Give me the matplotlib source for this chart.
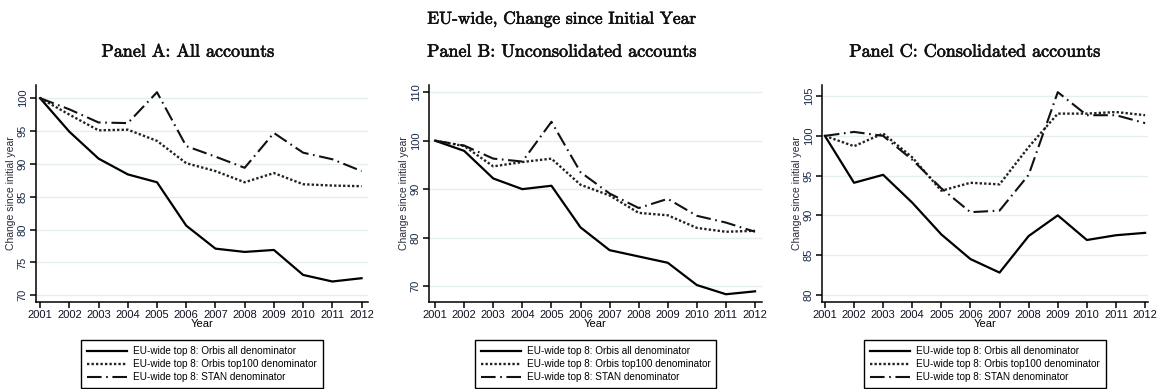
import matplotlib
matplotlib.use("Agg")
import matplotlib.pyplot as plt
import matplotlib.patheffects as pe

years = list(range(2001, 2013))

# Panel A: all accounts
a_orbis_all = [100, 94.9, 90.8, 88.4, 87.2, 80.6, 77.1, 76.6, 76.9, 73.1, 72.1, 72.6]
a_orbis_top100 = [100, 97.5, 95.1, 95.2, 93.5, 90.1, 88.9, 87.2, 88.6, 86.9, 86.7, 86.6]
a_stan = [100, 98.3, 96.3, 96.2, 100.9, 92.7, 91.1, 89.4, 94.7, 91.7, 90.7, 88.9]

# Panel B: unconsolidated accounts
b_orbis_all = [100, 97.9, 92.2, 90.0, 90.7, 82.1, 77.4, 76.1, 74.8, 70.2, 68.3, 68.9]
b_orbis_top100 = [100, 98.9, 94.7, 95.6, 96.3, 90.9, 88.7, 85.1, 84.6, 82.0, 81.2, 81.4]
b_stan = [100, 99.0, 96.3, 95.7, 103.9, 93.5, 89.1, 86.1, 88.0, 84.5, 83.1, 81.2]

# Panel C: consolidated accounts
c_orbis_all = [100, 94.1, 95.1, 91.6, 87.6, 84.5, 82.8, 87.4, 90.0, 86.9, 87.5, 87.8]
c_orbis_top100 = [100, 98.7, 100.3, 97.3, 93.1, 94.1, 93.9, 98.6, 102.8, 102.8, 103.0, 102.6]
c_stan = [100, 100.5, 100.0, 97.0, 93.4, 90.4, 90.6, 95.1, 105.5, 102.6, 102.6, 101.6]

panel_titles = ["Panel A: All accounts", "Panel B: Unconsolidated accounts",
                "Panel C: Consolidated accounts"]
series_labels = ["EU-wide top 8: Orbis all denominator",
                 "EU-wide top 8: Orbis top100 denominator",
                 "EU-wide top 8: STAN denominator"]
yticks_a = [70, 75, 80, 85, 90, 95, 100]
yticks_b = [70, 80, 90, 100, 110]
yticks_c = [80, 85, 90, 95, 100, 105]

W, H = 1159, 389
fig = plt.figure(figsize=(W / 100, H / 100), dpi=100)

serif = ["cmr10", "DejaVu Serif"]
sans = ["Liberation Sans Narrow", "Liberation Sans"]
heavy = [pe.withStroke(linewidth=0.45, foreground="#111111")]

fig.text(562 / W, 1 - 19 / H, "EU-wide, Change since Initial Year",
         family=serif, fontsize=12.5, ha="center", va="center",
         color="#111111", path_effects=heavy)

panels = [
    dict(box=(36, 368), data=(a_orbis_all, a_orbis_top100, a_stan),
         ylim=(68.98, 102.0), xlim=(2000.86, 2012.22), yt=yticks_a, tx=188),
    dict(box=(429, 762), data=(b_orbis_all, b_orbis_top100, b_stan),
         ylim=(66.7, 111.5), xlim=(2000.79, 2012.24), yt=yticks_b, tx=562),
    dict(box=(822, 1148), data=(c_orbis_all, c_orbis_top100, c_stan),
         ylim=(79.1, 106.4), xlim=(2000.9, 2012.1), yt=yticks_c, tx=975),
]

top_px, bot_px = 85, 302
styles = [
    dict(color="black", lw=1.6, ls="-"),
    dict(color="#222222", lw=1.7, ls=(0, (1, 0.9))),
    dict(color="#111111", lw=1.5, ls=(0, (7, 2.2, 0.8, 2.2))),
]

for i, p in enumerate(panels):
    l, r = p["box"]
    ax = fig.add_axes([l / W, 1 - bot_px / H, (r - l) / W, (bot_px - top_px) / H])
    handles = []
    for vals, st, lab in zip(p["data"], styles, series_labels):
        h, = ax.plot(years, vals, label=lab, solid_joinstyle="round",
                     dash_capstyle="butt", **st)
        handles.append(h)
    ax.set_xlim(*p["xlim"])
    ax.set_ylim(*p["ylim"])
    ax.set_xticks(years)
    ax.set_xticklabels([str(y) for y in years], family=sans, fontsize=8,
                       color="#111122")
    ax.set_yticks(p["yt"])
    ax.set_yticklabels([str(v) for v in p["yt"]], family=sans, fontsize=8,
                       rotation=90, va="center", color="#1a2a4a")
    for s in ("top", "right"):
        ax.spines[s].set_visible(False)
    for s in ("left", "bottom"):
        ax.spines[s].set_linewidth(1.1)
    ax.tick_params(direction="out", length=4, width=1.1, pad=2)
    ax.grid(axis="y", color="#e4eef0", lw=1.0)
    ax.set_axisbelow(True)
    ax.set_xlabel("Year", family=sans, fontsize=8, labelpad=-1)
    ax.set_ylabel("Change since initial year", family=sans, fontsize=7.5,
                  labelpad=1, color="#2a2a3a")
    fig.text(p["tx"] / W, 1 - 52 / H, panel_titles[i], family=serif,
             fontsize=13, ha="center", va="center", color="#111111",
             path_effects=heavy)
    fig.legend(handles=handles, loc="upper center",
               bbox_to_anchor=(((l + r) / 2) / W, 1 - 340 / H),
               prop=dict(family=sans, size=7.2), frameon=True, fancybox=False,
               edgecolor="black", framealpha=1, handlelength=4.0,
               handletextpad=0.6, labelspacing=0.3, borderpad=0.6,
               borderaxespad=0)

fig.savefig("out.png", dpi=100)
